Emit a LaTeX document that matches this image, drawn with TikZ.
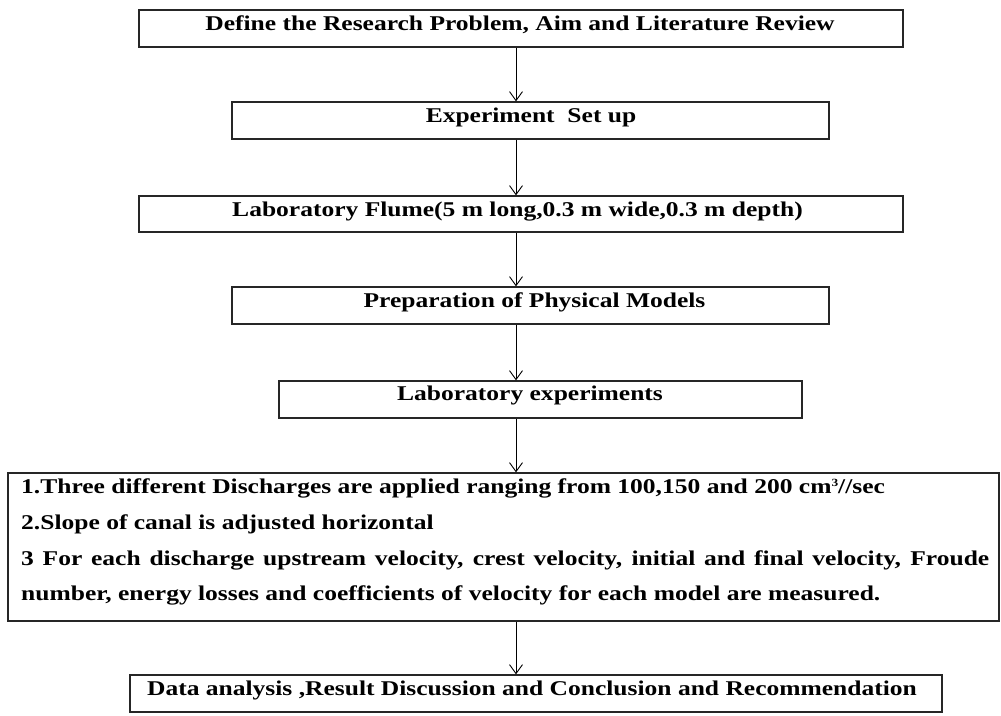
\documentclass[tikz,border=0pt]{standalone}
\usepackage{fontspec}
\setmainfont{Liberation Serif}[FakeStretch=1.215]
\usetikzlibrary{arrows.meta}
\tikzset{
  box/.style={draw=black!85, line width=1.3pt, inner sep=0pt, fill=none},
  txt/.style={inner sep=0pt, anchor=base, font=\bfseries\fontsize{21}{24}\selectfont, text=black},
  ltxt/.style={inner sep=0pt, anchor=base west, font=\bfseries\fontsize{21}{24}\selectfont, text=black},
  arr/.style={draw=black, line width=0.9pt, -{Straight Barb[length=9pt,width=13pt,line width=0.9pt]}}
}
\begin{document}
\begin{tikzpicture}[x=1pt,y=-1pt]
\useasboundingbox (0,0) rectangle (1001,715);
\fill[white] (0,0) rectangle (1001,715);
\coordinate (ax) at (516,0);
% boxes
\node[box, minimum width=764pt, minimum height=37pt] (b1) at (521,28.5) {};
\node[box, minimum width=597pt, minimum height=37pt] (b2) at (530.5,120.5) {};
\node[box, minimum width=764pt, minimum height=36pt] (b3) at (521,214) {};
\node[box, minimum width=597pt, minimum height=37pt] (b4) at (530.5,305.5) {};
\node[box, minimum width=523pt, minimum height=37pt] (b5) at (540.5,399.5) {};
\node[box, minimum width=991pt, minimum height=148pt] (b6) at (503.5,547) {};
\node[box, minimum width=812pt, minimum height=37pt] (b7) at (536,693.5) {};
% texts
\node[txt] (t1) at (520,30) {Define the Research Problem, Aim and Literature Review};
\node[txt] (t2) at (531,122) {Experiment\ \ Set up};
\node[txt] (t3) at (517.5,216) {Laboratory Flume(5 m long,0.3 m wide,0.3 m depth)};
\node[txt] (t4) at (534.5,307) {Preparation of Physical Models};
\node[txt] (t5) at (530,400) {Laboratory experiments};
\node[ltxt] (l1) at (21,493) {1.Three different Discharges are applied ranging from 100,150 and 200 cm\raisebox{7pt}{\fontsize{11}{12}\selectfont 3}//sec};
\node[ltxt] (l2) at (21,529) {2.Slope of canal is adjusted horizontal};
\node[ltxt] (l3) at (21,565) {\hbox to 968pt{3 For each discharge upstream velocity, crest velocity, initial and final velocity, Froude}};
\node[ltxt] (l4) at (21,600) {number, energy losses and coefficients of velocity for each model are measured.};
\node[txt] (t7) at (532,695) {Data analysis ,Result Discussion and Conclusion and Recommendation};
% arrows
\draw[arr] (b1.south -| ax) -- (b2.north -| ax);
\draw[arr] (b2.south -| ax) -- (b3.north -| ax);
\draw[arr] (b3.south -| ax) -- (b4.north -| ax);
\draw[arr] (b4.south -| ax) -- (b5.north -| ax);
\draw[arr] (b5.south -| ax) -- (b6.north -| ax);
\draw[arr] (b6.south -| ax) -- (b7.north -| ax);
\end{tikzpicture}
\end{document}
